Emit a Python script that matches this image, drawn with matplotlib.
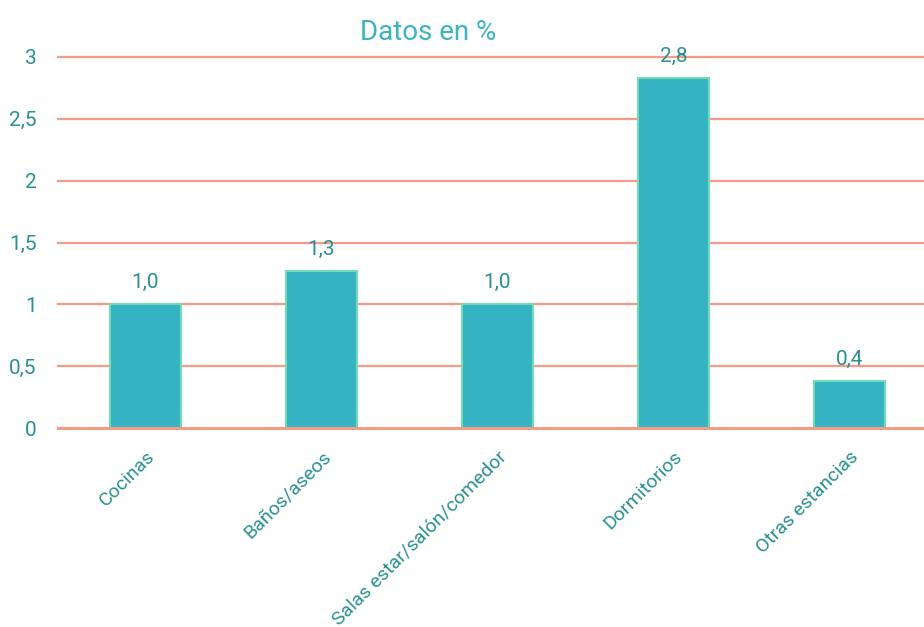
import matplotlib.pyplot as plt
import numpy as np

plt.rcParams['font.family'] = ['Liberation Sans Narrow', 'Roboto', 'DejaVu Sans']

categorias = ['Cocinas', 'Baños/aseos', 'Salas estar/salón/comedor', 'Dormitorios', 'Otras estancias']
valores = [1.0, 1.27, 1.0, 2.83, 0.38]
etiquetas = ['1,0', '1,3', '1,0', '2,8', '0,4']
yticks = [0, 0.5, 1, 1.5, 2, 2.5, 3]
ytick_labels = ['0', '0,5', '1', '1,5', '2', '2,5', '3']

teal_text = '#2a9090'
bar_color = '#35b3c2'
edge_color = '#72dcb4'
grid_color = '#f59a86'

fig = plt.figure(figsize=(9.24, 6.27), dpi=100)
ax = fig.add_axes([57.5 / 924, 1 - 428 / 627, 880 / 924, (428 - 57) / 627])

x = np.arange(len(categorias))
bars = ax.bar(x, valores, width=0.4, color=bar_color, edgecolor=edge_color, linewidth=1.5, zorder=3)

for b, lab in zip(bars, etiquetas):
    ax.annotate(lab, (b.get_x() + b.get_width() / 2, b.get_height()),
                xytext=(0, 9), textcoords='offset points', ha='center', va='bottom',
                fontsize=15, color=teal_text, zorder=4)

ax.set_xlim(-0.5, len(categorias) - 0.5)
ax.set_ylim(0, 3)
ax.set_yticks(yticks)
ax.set_yticklabels(ytick_labels)
# gridlines drawn by hand so the ones at 0 and 3 are not clipped
for yv in yticks:
    ax.axhline(yv, color=grid_color, linewidth=1.6 if yv else 2.2, zorder=4 if yv == 0 else 1,
               clip_on=False)
ax.set_xticks(x)
ax.set_xticklabels(categorias, rotation=45, ha='right', rotation_mode='anchor')
ax.tick_params(axis='both', length=0, labelcolor=teal_text, labelsize=15)
ax.tick_params(axis='x', pad=14, labelsize=14)
ax.tick_params(axis='y', pad=15)
for s in ax.spines.values():
    s.set_visible(False)

fig.text(428 / 924, 1 - 32 / 627, 'Datos en %', ha='center', va='center',
         fontsize=20, color='#3ab4c0')

fig.savefig('out.png', dpi=100)
